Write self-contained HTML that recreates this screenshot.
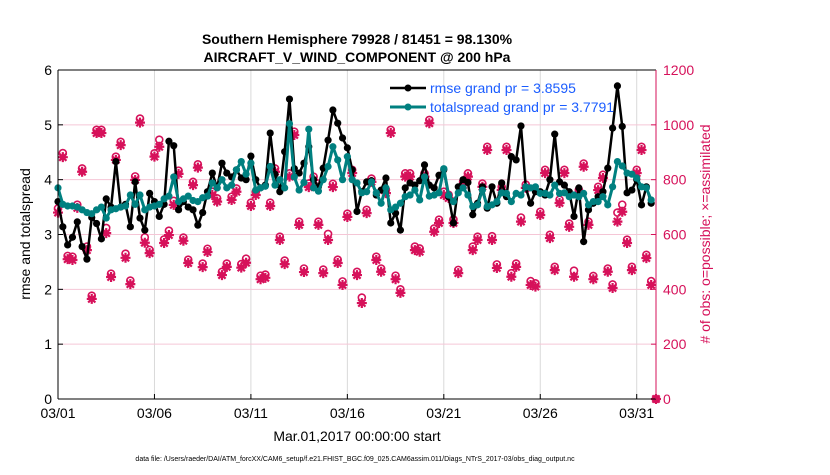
<!DOCTYPE html>
<html><head><meta charset="utf-8"><style>
body{margin:0;background:#fff;font-family:"Liberation Sans",Arial,sans-serif}
svg text{font-family:"Liberation Sans",Arial,sans-serif}
</style></head><body>
<svg id="chart" width="830" height="470" viewBox="0 0 830 470" xmlns="http://www.w3.org/2000/svg">
<rect width="830" height="470" fill="#fff"/>
<g id="grid"></g>
<g id="marks"></g>
<g id="axes"></g>
<text x="357" y="44" text-anchor="middle" font-size="14" font-weight="bold">Southern Hemisphere 79928 / 81451 = 98.130%</text>
<text x="357" y="62" text-anchor="middle" font-size="14" font-weight="bold">AIRCRAFT_V_WIND_COMPONENT @ 200 hPa</text>
<text transform="translate(30,234) rotate(-90)" text-anchor="middle" font-size="14">rmse and totalspread</text>
<text transform="translate(710,234) rotate(-90)" text-anchor="middle" font-size="14" fill="#d6115a"># of obs: o=possible; ×=assimilated</text>
<text x="357" y="441" text-anchor="middle" font-size="14">Mar.01,2017 00:00:00 start</text>
<text x="355" y="461" text-anchor="middle" font-size="7">data file: /Users/raeder/DAI/ATM_forcXX/CAM6_setup/f.e21.FHIST_BGC.f09_025.CAM6assim.011/Diags_NTrS_2017-03/obs_diag_output.nc</text>
<g>
<line x1="390" y1="88" x2="426" y2="88" stroke="#000" stroke-width="2.5"/><circle cx="408" cy="88" r="3.5" fill="#000"/>
<text x="430" y="93" font-size="14" fill="#1a5cff">rmse grand pr = 3.8595</text>
<line x1="390" y1="107" x2="426" y2="107" stroke="#008080" stroke-width="3"/><circle cx="408" cy="107" r="3.5" fill="#008080"/>
<text x="430" y="112" font-size="14" fill="#1a5cff">totalspread grand pr = 3.7791</text>
</g>
</svg>
<script>
const dayTicks = [0,5,10,15,20,25,30];
const dayLabels = ["03/01","03/06","03/11","03/16","03/21","03/26","03/31"];
const leftTicks = [0,1,2,3,4,5,6];
const rightTicks = [0,200,400,600,800,1000,1200];
const rmse = [3.6,3.14,2.81,2.95,3.23,2.78,2.55,3.31,3.2,2.92,3.65,3.5,4.33,3.5,3.55,3.14,3.96,3.3,3.08,3.75,3.6,3.33,3.55,4.7,4.62,3.45,3.6,3.5,3.45,3.17,3.4,3.78,4.12,3.85,4.3,4.12,4.05,4.18,4.03,4.0,4.43,4.0,3.85,3.9,4.85,4.1,3.78,4.51,5.47,4.2,4.12,4.3,4.6,4.0,3.87,4.21,4.72,5.27,5.03,4.76,4.58,4.18,3.42,3.78,3.96,3.98,3.72,3.81,4.03,3.21,3.39,3.08,3.85,3.94,3.9,3.98,4.27,3.9,3.85,4.08,4.18,3.69,3.21,3.87,4.0,3.95,3.36,3.57,3.87,3.48,3.87,3.57,3.94,3.69,4.42,4.36,4.98,3.85,3.57,3.78,3.78,3.72,4.0,4.83,3.96,3.9,3.78,3.33,3.85,2.87,3.45,3.57,3.69,3.78,4.21,4.94,5.71,4.97,3.76,3.81,4.0,3.54,3.87,3.57];
const spread = [3.85,3.55,3.52,3.52,3.5,3.45,3.4,3.38,3.45,3.5,3.3,3.45,3.47,3.5,3.52,3.72,3.55,3.72,3.45,3.5,3.52,3.55,3.65,3.7,4.05,3.6,3.65,3.7,3.62,3.6,3.67,3.7,3.94,3.85,4.0,3.85,3.9,4.18,4.33,4.1,4.3,3.81,3.85,3.88,4.24,3.9,4.0,3.85,5.02,4.05,3.81,3.95,4.92,3.85,3.79,4.0,4.24,4.6,4.36,4.0,4.42,4.0,3.94,3.76,3.78,3.96,3.76,3.57,3.85,3.45,3.5,3.57,3.69,3.72,3.81,3.63,4.05,3.7,3.72,3.76,4.2,3.72,3.6,3.76,3.85,3.72,3.51,3.54,3.81,3.51,3.54,3.6,3.76,3.75,3.6,3.75,3.72,3.87,3.85,3.87,3.75,3.75,3.72,3.9,3.75,3.76,3.69,3.72,3.69,3.75,3.54,3.6,3.6,3.69,3.54,3.87,4.33,4.25,4.12,4.1,4.03,3.87,3.85,3.63];
const assimilated = [680,882,510,507,697,829,543,365,970,970,605,445,872,926,515,419,799,1008,570,532,884,920,569,598,708,821,577,496,780,844,481,536,744,720,452,482,726,756,479,497,704,744,437,442,704,829,580,492,811,963,635,463,773,799,635,459,580,773,496,416,664,824,452,350,678,792,507,464,751,970,437,387,811,811,543,537,811,1006,610,642,744,733,642,459,780,811,543,580,774,908,580,478,762,908,446,482,647,770,416,410,671,824,587,470,715,824,628,446,751,847,635,437,762,806,464,405,647,683,569,470,824,908,514,416,0];
const possible = [695,897,522,519,709,841,556,377,982,982,624,457,884,938,530,432,812,1023,590,544,896,946,582,614,723,833,589,508,792,856,494,548,756,732,464,494,738,768,492,512,716,756,450,454,716,841,592,505,823,975,647,476,786,811,647,472,602,785,508,429,676,836,464,370,690,804,519,476,763,982,450,400,823,823,556,549,823,1018,622,654,756,745,655,471,792,823,556,592,786,920,594,491,774,920,459,494,662,782,430,422,683,836,599,482,727,836,640,468,763,859,647,449,774,818,476,418,680,709,581,482,836,920,526,430,0];

const X0=58, X1=656, Y0=399, Y1=70;
const xScale = d => X0 + (X1-X0)*d/31;
const yL = v => Y0 - (Y0-Y1)*v/6;
const yR = v => Y0 - (Y0-Y1)*v/1200;
const NS="http://www.w3.org/2000/svg";
function mk(tag, attrs, parent){const e=document.createElementNS(NS,tag);for(const k in attrs)e.setAttribute(k,attrs[k]);parent.appendChild(e);return e;}
const grid=document.getElementById('grid'), marks=document.getElementById('marks'), axes=document.getElementById('axes');
const PINK="#d6115a";

dayTicks.forEach((d,i)=>{
  const x=xScale(d);
  const g=mk('line',{x1:x,y1:Y1,x2:x,y2:Y0,stroke:'#d9d9d9','stroke-width':1},grid);
  
  
  mk('line',{x1:x,y1:Y0,x2:x,y2:Y0-5,stroke:'#000'},axes);
  const t=mk('text',{x:x,y:418,'text-anchor':'middle','font-size':14},axes);
  t.textContent=dayLabels[i];
  
  
});
rightTicks.forEach(v=>{
  const y=yR(v);
  if(v>0&&v<1200){const g=mk('line',{x1:X0,y1:y,x2:X1,y2:y,stroke:'#f5c6d6','stroke-width':1},grid);
  
  }
  mk('line',{x1:X1,y1:y,x2:X1-5,y2:y,stroke:PINK},axes);
  const t=mk('text',{x:X1+7,y:y+5,'font-size':14,fill:PINK},axes);
  t.textContent=v;
  
  
});
leftTicks.forEach(v=>{
  const y=yL(v);
  mk('line',{x1:X0,y1:y,x2:X0+5,y2:y,stroke:'#000'},axes);
  const t=mk('text',{x:X0-6,y:y+5,'text-anchor':'end','font-size':14},axes);
  t.textContent=v;
  
  
});
mk('line',{x1:X0,y1:Y1,x2:X0,y2:Y0,stroke:'#000','stroke-width':1},axes);
mk('line',{x1:X0,y1:Y0,x2:X1,y2:Y0,stroke:'#000'},axes);
mk('line',{x1:X0,y1:Y1,x2:X1,y2:Y1,stroke:'#000'},axes);
mk('line',{x1:X1,y1:Y1,x2:X1,y2:Y0,stroke:PINK},axes);

const obsG=mk('g',{},marks);


possible.forEach((v,i)=>{
  const c=mk('circle',{cx:xScale(i*0.25),cy:yR(v),r:3.5,fill:'none',stroke:PINK,'stroke-width':1.6},obsG);
  
  
});
assimilated.forEach((v,i)=>{
  const x=xScale(i*0.25), y=yR(v), s=5, q=3.6;
  const p=mk('path',{d:`M${x-s},${y}H${x+s}M${x},${y-s}V${y+s}M${x-q},${y-q}L${x+q},${y+q}M${x-q},${y+q}L${x+q},${y-q}`,stroke:PINK,'stroke-width':2.2},obsG);
  
  
});
function series(arr,color,w,name){
  const pts=arr.map((v,i)=>xScale(i*0.25)+','+yL(v)).join(' ');
  const l=mk('polyline',{points:pts,fill:'none',stroke:color,'stroke-width':w,'stroke-linejoin':'round'},marks);
  
  
  arr.forEach((v,i)=>{
    const c=mk('circle',{cx:xScale(i*0.25),cy:yL(v),r:3.6,fill:color},marks);
    
    
  });
}
series(rmse,'#000',2.5,'rmse');
series(spread,'#008080',3,'totalspread');
</script>
</body></html>
